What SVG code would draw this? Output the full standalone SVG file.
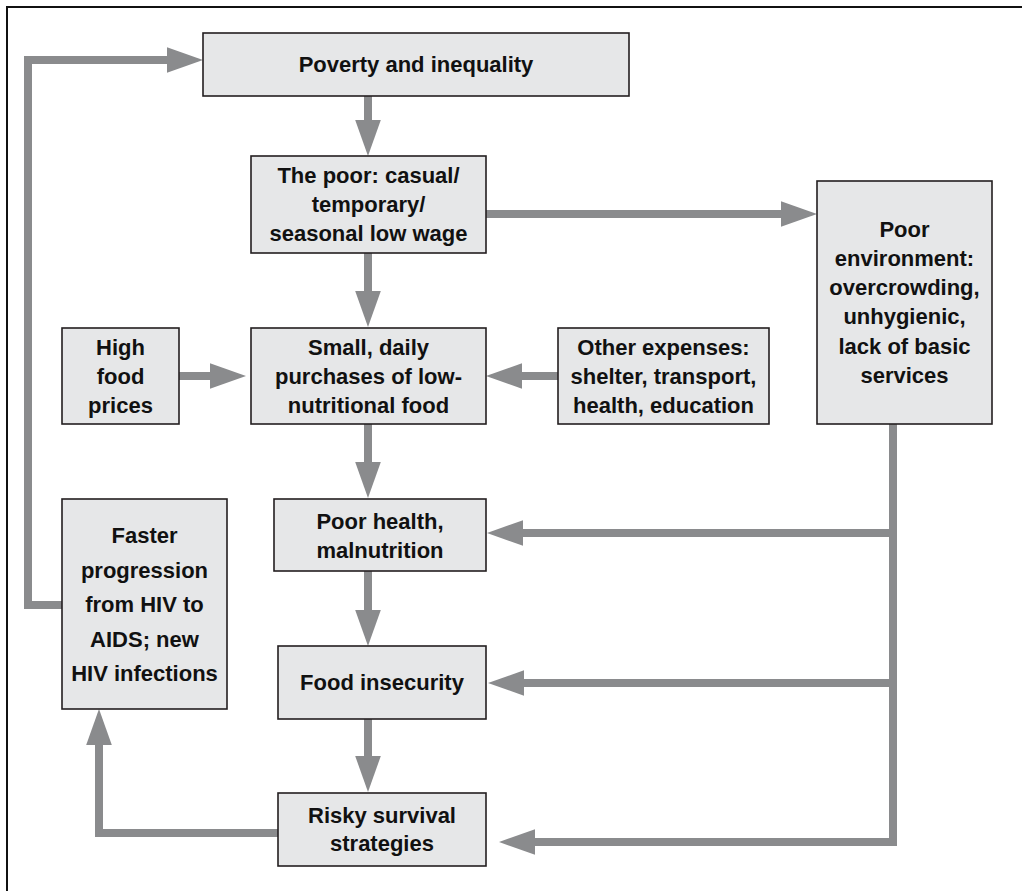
<svg xmlns="http://www.w3.org/2000/svg" width="1022" height="891" viewBox="0 0 1022 891">
<defs>
<style>
.box{fill:#e6e7e8;stroke:#231f20;stroke-width:1.6}
.t{font-family:"Liberation Sans",Arial,sans-serif;font-weight:bold;font-size:22px;fill:#111;text-anchor:middle}
.c{fill:none;stroke:#8a8b8d;stroke-width:8;stroke-linejoin:miter;stroke-linecap:butt;marker-end:url(#ah)}
.b{fill:none;stroke:#8a8b8d;stroke-width:8;stroke-linejoin:miter;stroke-linecap:butt}
</style>
<marker id="ah" viewBox="0 -13 36 26" markerWidth="36" markerHeight="26" refX="0" refY="0" orient="auto" markerUnits="userSpaceOnUse">
<path d="M-0.5,-13 L36,0 L-0.5,13 Z" fill="#8a8b8d"/>
</marker>
</defs>
<rect width="1022" height="891" fill="#fff"/>
<path d="M7,891 V7 H1022" fill="none" stroke="#111" stroke-width="2"/>

<g id="connectors">
<path class="c" d="M62,605 H28 V60 H167"/>
<path class="c" d="M368,96 V120"/>
<path class="c" d="M368,253 V291"/>
<path class="c" d="M486,214 H781"/>
<path class="c" d="M179,376 H210"/>
<path class="c" d="M558,376 H522"/>
<path class="c" d="M368,424 V462"/>
<path class="c" d="M368,571 V610"/>
<path class="c" d="M368,719 V756"/>
<path class="c" d="M893,424 V842 H535"/>
<path class="c" d="M893,533 H523"/>
<path class="c" d="M893,683 H524"/>
<path class="c" d="M278,833 H99 V745"/>
</g>

<g id="poverty">
<rect class="box" x="203" y="33" width="426" height="63"/>
<text class="t" x="416" y="72">Poverty and inequality</text>
</g>

<g id="the-poor">
<rect class="box" x="251" y="156" width="235" height="97"/>
<text class="t" x="368.5" y="183">The poor: casual/</text>
<text class="t" x="368.5" y="212">temporary/</text>
<text class="t" x="368.5" y="241">seasonal low wage</text>
</g>

<g id="poor-environment">
<rect class="box" x="817" y="181" width="175" height="243"/>
<text class="t" x="904.5" y="237">Poor</text>
<text class="t" x="904.5" y="266">environment:</text>
<text class="t" x="904.5" y="295">overcrowding,</text>
<text class="t" x="904.5" y="324">unhygienic,</text>
<text class="t" x="904.5" y="354">lack of basic</text>
<text class="t" x="904.5" y="383">services</text>
</g>

<g id="high-food-prices">
<rect class="box" x="62" y="328" width="117" height="96"/>
<text class="t" x="120.5" y="355">High</text>
<text class="t" x="120.5" y="384">food</text>
<text class="t" x="120.5" y="413">prices</text>
</g>

<g id="small-purchases">
<rect class="box" x="251" y="328" width="235" height="96"/>
<text class="t" x="368.5" y="355">Small, daily</text>
<text class="t" x="368.5" y="384">purchases of low-</text>
<text class="t" x="368.5" y="413">nutritional food</text>
</g>

<g id="other-expenses">
<rect class="box" x="558" y="328" width="211" height="96"/>
<text class="t" x="663.5" y="355">Other expenses:</text>
<text class="t" x="663.5" y="384">shelter, transport,</text>
<text class="t" x="663.5" y="413">health, education</text>
</g>

<g id="faster-progression">
<rect class="box" x="62" y="499" width="165" height="210"/>
<text class="t" x="144.5" y="543">Faster</text>
<text class="t" x="144.5" y="577.5">progression</text>
<text class="t" x="144.5" y="612">from HIV to</text>
<text class="t" x="144.5" y="646.5">AIDS; new</text>
<text class="t" x="144.5" y="681">HIV infections</text>
</g>

<g id="poor-health">
<rect class="box" x="274" y="499" width="212" height="72"/>
<text class="t" x="380" y="529">Poor health,</text>
<text class="t" x="380" y="558">malnutrition</text>
</g>

<g id="food-insecurity">
<rect class="box" x="278" y="646" width="208" height="73"/>
<text class="t" x="382" y="690">Food insecurity</text>
</g>

<g id="risky-survival">
<rect class="box" x="278" y="793" width="208" height="73"/>
<text class="t" x="382" y="823">Risky survival</text>
<text class="t" x="382" y="851">strategies</text>
</g>
</svg>
